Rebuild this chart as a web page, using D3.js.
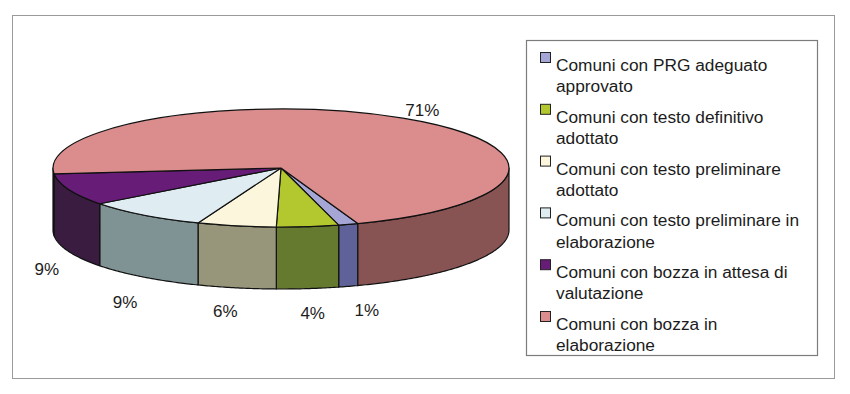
<!DOCTYPE html>
<html>
<head>
<meta charset="utf-8">
<script src="https://cdn.jsdelivr.net/npm/d3@7"></script>
<style>
  html, body { margin: 0; padding: 0; background: #fff; }
  svg { display: block; }
  text { font-family: "Liberation Sans", Arial, sans-serif; fill: #1c1c1c; }
</style>
</head>
<body>
<div id="chart"></div>
<script>
var categories = [
  "Comuni con PRG adeguato approvato",
  "Comuni con testo definitivo adottato",
  "Comuni con testo preliminare adottato",
  "Comuni con testo preliminare in elaborazione",
  "Comuni con bozza in attesa di valutazione",
  "Comuni con bozza in elaborazione"
];
var legendLines = [
  ["Comuni con PRG adeguato", "approvato"],
  ["Comuni con testo definitivo", "adottato"],
  ["Comuni con testo preliminare", "adottato"],
  ["Comuni con testo preliminare in", "elaborazione"],
  ["Comuni con bozza in attesa di", "valutazione"],
  ["Comuni con bozza in", "elaborazione"]
];
var shares = [1.4, 4.4, 5.6, 8.7, 8.8, 71.1];
var topColors = ["#a5a6d6", "#b3c72e", "#fbf6dc", "#dfedf2", "#671c78", "#da8d8c"];
var sideColors = ["#5f6298", "#667a2f", "#97957a", "#7f9294", "#3a1c40", "#875353"];

var width = 850, height = 394;
var cx = 281, cy = 168, rx = 228, ry = 59, depth = 62;
var labelRadius = 270;
var startAngle = 160.3 * Math.PI / 180;

// tweaks so the percent labels sit where the original put them
var labelNudge = [[6, 19], [0, 19.5], [-3, 18], [6.5, 22], [17, 19], [-3, 7]];

var svg = d3.select("#chart").append("svg").attr("width", width).attr("height", height);

svg.append("rect")
  .attr("x", 12.5).attr("y", 15.5).attr("width", 822).attr("height", 363)
  .attr("fill", "#fff").attr("stroke", "#9a9a9a");

var pie = d3.pie().sort(null).startAngle(startAngle).endAngle(startAngle + 2 * Math.PI);
var slices = pie(shares);

function ex(a, r) { return cx + (r || rx) * Math.sin(a); }
function ey(a) { return cy - ry * Math.cos(a); }

// side wall: only the front half of the rim (90deg to 270deg) can be seen
var line = d3.line();
function wallPath(a0, a1) {
  var angles = d3.range(a0, a1, 0.01).concat([a1]);
  var upper = angles.map(function(a) { return [ex(a), ey(a)]; });
  var lower = angles.slice().reverse().map(function(a) { return [ex(a), ey(a) + depth]; });
  return line(upper.concat(lower)) + "Z";
}

var walls = [];
slices.forEach(function(d, i) {
  [0, 2 * Math.PI].forEach(function(turn) {
    var a0 = Math.max(d.startAngle - turn, Math.PI / 2);
    var a1 = Math.min(d.endAngle - turn, Math.PI * 1.5);
    if (a1 > a0) walls.push({ a0: a0, a1: a1, i: i });
  });
});

svg.append("g").selectAll("path")
  .data(walls)
  .join("path")
  .attr("d", function(d) { return wallPath(d.a0, d.a1); })
  .attr("fill", function(d) { return sideColors[d.i]; })
  .attr("stroke", "#111")
  .attr("stroke-width", 1.2)
  .attr("stroke-linejoin", "round");

var arc = d3.arc().innerRadius(0).outerRadius(rx);

svg.append("g")
  .attr("transform", "translate(" + cx + "," + cy + ") scale(1," + (ry / rx) + ")")
  .selectAll("path")
  .data(slices)
  .join("path")
  .attr("d", arc)
  .attr("fill", function(d, i) { return topColors[i]; })
  .attr("stroke", "#111")
  .attr("stroke-width", 1.2)
  .attr("vector-effect", "non-scaling-stroke")
  .attr("stroke-linejoin", "round");

var pct = d3.format(".0f");
svg.append("g").selectAll("text")
  .data(slices)
  .join("text")
  .attr("x", function(d, i) {
    return ex((d.startAngle + d.endAngle) / 2, labelRadius) + labelNudge[i][0];
  })
  .attr("y", function(d, i) {
    var mid = (d.startAngle + d.endAngle) / 2;
    var lift = Math.cos(mid) < 0 ? depth : 0;
    return cy - (ry * labelRadius / rx) * Math.cos(mid) + lift + labelNudge[i][1];
  })
  .attr("text-anchor", "middle")
  .attr("font-size", 17)
  .text(function(d) { return pct(d.value) + "%"; });

// legend
var legendBox = { x: 526.5, y: 40.5, w: 291, h: 315 };
svg.append("rect")
  .attr("x", legendBox.x).attr("y", legendBox.y)
  .attr("width", legendBox.w).attr("height", legendBox.h)
  .attr("fill", "#fff").attr("stroke", "#7c7c7c").attr("stroke-width", 1.2);

var legendY = d3.scalePoint().domain(categories).range([52, 311]);

var items = svg.append("g").selectAll("g")
  .data(categories)
  .join("g")
  .attr("transform", function(d) { return "translate(540," + legendY(d) + ")"; });

items.append("rect")
  .attr("x", 0.5).attr("y", 0.5).attr("width", 10).attr("height", 10)
  .attr("fill", function(d, i) { return topColors[i]; })
  .attr("stroke", "#222");

items.each(function(d, i) {
  d3.select(this).selectAll("text")
    .data(legendLines[i])
    .join("text")
    .attr("x", 16)
    .attr("y", function(t, j) { return 19 + j * 21.3; })
    .attr("font-size", 17.3)
    .text(function(t) { return t; });
});
</script>
</body>
</html>
